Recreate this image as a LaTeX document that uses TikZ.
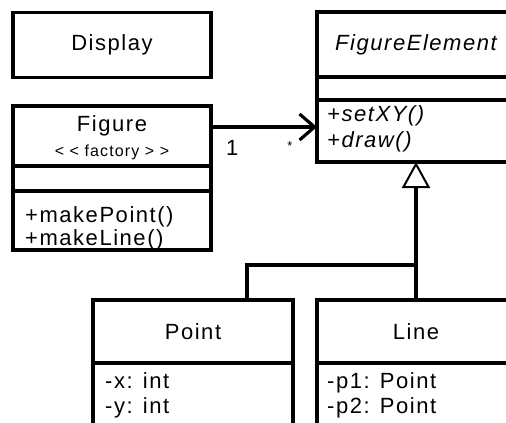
\documentclass[tikz,border=0pt]{standalone}
\usepackage{fontspec}
\setmainfont[LetterSpace=7]{Liberation Sans}
\usetikzlibrary{positioning,arrows.meta}
\newcommand\umlfont{\fontsize{22}{26}\selectfont}
\newcommand\umlsmall{\fontsize{16}{19}\selectfont}
\tikzset{
  box/.style={draw, line width=3.2pt, outer sep=0pt, inner sep=0pt,
    minimum width=198pt, font=\umlfont},
  mem/.style={anchor=base west, inner sep=0pt, font=\umlfont},
  conn/.style={line width=3.2pt},
}
\begin{document}
\begin{tikzpicture}[x=1pt,y=-1pt]
\useasboundingbox (0,0) rectangle (506,423);
\clip (0,0) rectangle (506,423);

% 类 Display
\node[box, minimum height=65] (display) at (112,45) {Display};

% 类 Figure
\node[box, minimum height=60] (figname) at (112,136) {};
\node[box, minimum height=25, below=0pt of figname] (figattr) {};
\node[box, minimum height=59, below=0pt of figattr] (figops) {};
\node[anchor=base, inner sep=0pt, font=\umlfont] at ([shift={(0,25)}]figname.north) {Figure};
\node[anchor=base, inner sep=0pt, font=\umlsmall] at ([shift={(0,50)}]figname.north) {< < factory > >};
\node[mem] at ([shift={(12,31)}]figops.north west) {+makePoint()};
\node[mem] at ([shift={(12,54)}]figops.north west) {+makeLine()};

% 类 FigureElement
\node[box, minimum height=65, font=\umlfont\itshape] (elname) at (416,44.5) {FigureElement};
\node[box, minimum height=23, below=0pt of elname] (elattr) {};
\node[box, minimum height=62, below=0pt of elattr] (elops) {};
\node[mem, font=\umlfont\itshape] at ([shift={(10,21)}]elops.north west) {+setXY()};
\node[mem, font=\umlfont\itshape] at ([shift={(10,47)}]elops.north west) {+draw()};

% 类 Point
\node[box, minimum width=200, minimum height=63] (point) at (193,331.5) {Point};
\node[box, minimum width=200, minimum height=100, below=0pt of point] (pattr) {};
\node[mem] at ([shift={(12,25)}]pattr.north west) {-x: int};
\node[mem] at ([shift={(12,50)}]pattr.north west) {-y: int};

% 类 Line
\node[box, minimum height=63] (line) at (416,331.5) {Line};
\node[box, minimum height=100, below=0pt of line] (lattr) {};
\node[mem] at ([shift={(10,25)}]lattr.north west) {-p1: Point};
\node[mem] at ([shift={(10,50)}]lattr.north west) {-p2: Point};

% 关联
\coordinate (hit) at ([yshift=4pt]elops.west);
\draw[conn, -{Straight Barb[length=15pt,width=26pt]}] (figname.east |- hit) -- (hit)
  node[pos=0.2, anchor=base, yshift=-28pt, inner sep=0pt, font=\umlfont] {1}
  node[pos=0.745, yshift=-19pt, inner sep=0pt, font=\fontsize{13}{15}\selectfont] {*};

% 继承
\coordinate (bend) at (247,265);
\draw[conn, -{Triangle[open,length=26pt,width=28pt,line width=2pt]}] (line.north) -- (elops.south);
\draw[conn] (point.north -| bend) -- (bend) -- (bend -| line.north);
\end{tikzpicture}
\end{document}
